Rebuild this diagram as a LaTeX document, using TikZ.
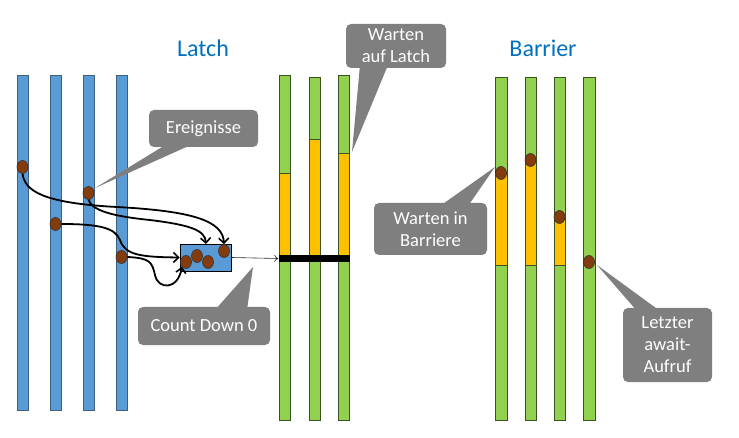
\documentclass[tikz,border=0pt]{standalone}
\usepackage{fontspec}
\setmainfont{Carlito}
\usetikzlibrary{shapes.geometric,arrows.meta,calc}
\definecolor{barblue}{HTML}{5B9BD5}
\definecolor{bargreen}{HTML}{92D050}
\definecolor{barorange}{HTML}{FFC000}
\definecolor{dotbrown}{HTML}{843C0C}
\definecolor{callgray}{HTML}{7F7F7F}
\definecolor{titleblue}{HTML}{0070C0}
\definecolor{blueedge}{HTML}{3F5F7F}
\definecolor{greenedge}{HTML}{3B5323}
\tikzset{
  bluebar/.style={fill=barblue,draw=blueedge,line width=0.8pt},
  greenbar/.style={fill=bargreen,draw=greenedge,line width=0.8pt},
  orangebar/.style={fill=barorange,draw=greenedge,line width=0.8pt},
  evdot/.style={ellipse,fill=dotbrown,draw=black!80,line width=0.6pt,minimum width=11pt,minimum height=13pt,inner sep=0pt},
  callout/.style={fill=callgray,rounded corners=5pt,text=white,inner sep=0pt,align=center,font=\fontsize{18.5}{22}\selectfont},
  pointer/.style={fill=callgray,draw=none},
  title/.style={text=titleblue,font=\fontsize{24}{28}\selectfont,inner sep=0pt},
  flow/.style={line width=1.8pt,-{Straight Barb[length=5pt,width=10pt,line width=1.6pt]}},
}
\begin{document}
\begin{tikzpicture}[x=1pt,y=-1pt]
\useasboundingbox (0,0) rectangle (739,438);
% titles
\node[title] (tlatch) at (203,48) {Latch};
\node[title] (tbarrier) at (543,48) {Barrier};
% blue bars
\foreach \x in {17,50,83,116} {\draw[bluebar] (\x,75) rectangle (\x+11,410);}
% latch green bars
\draw[greenbar] (279,75) rectangle (290,420);
\draw[greenbar] (309,77) rectangle (320,420);
\draw[greenbar] (338,75) rectangle (349,420);
\draw[orangebar] (279,173) rectangle (290,258);
\draw[orangebar] (309,139) rectangle (320,258);
\draw[orangebar] (338,153) rectangle (349,258);
\node[fill=black,minimum width=71pt,minimum height=7pt,inner sep=0pt] (bb) at (314,258.5) {};
% barrier bars
\draw[greenbar] (495,77) rectangle (507,420);
\draw[greenbar] (525,77) rectangle (536,420);
\draw[greenbar] (554,77) rectangle (565,420);
\draw[greenbar] (583,77) rectangle (595,420);
\draw[orangebar] (495,173) rectangle (507,265);
\draw[orangebar] (525,160) rectangle (536,265);
\draw[orangebar] (554,217) rectangle (565,265);
\node[evdot] (b1) at (501,173) {};
\node[evdot] (b2) at (530.5,160) {};
\node[evdot] (b3) at (559.5,217) {};
\node[evdot] (b4) at (589,262) {};
% event dots on blue bars
\node[evdot] (d1) at (22.5,167) {};
\node[evdot] (d2) at (88.5,193) {};
\node[evdot] (d3) at (55.5,224) {};
\node[evdot] (d4) at (121.5,257) {};
% count down box
\node[fill=barblue,draw=black,line width=0.8pt,minimum width=51pt,minimum height=27pt,inner sep=0pt] (cd) at (205.5,257.5) {};
\node[evdot] (e4) at (224,251) {};
\node[evdot] (e2) at (197,256) {};
\node[evdot] (e3) at (208,262) {};
\node[evdot] (e1) at (186,262) {};
\coordinate (c2) at (206,244);
% flows
\draw[flow] (d1.south) .. controls (25,190) and (40,203) .. (117,207) .. controls (190,211) and (223,220) .. (e4.north);
\draw[flow] (d2.south) .. controls (92,210) and (110,216) .. (150,220) .. controls (190,225) and (205,230) .. (c2);
\draw[flow] (d3.east) .. controls (100,224) and (115,228) .. (120,240) .. controls (125,255) and (140,257) .. (cd.west);
\draw[flow] (d4.east) .. controls (150,258) and (152,262) .. (155,275) .. controls (158,290) and (178,290) .. (e1.south west);
\draw[-{To[length=4pt,width=7pt]},line width=0.6pt,draw=black!85] (cd.east) -- (bb.west);
% callouts
\node[callout,minimum width=109pt,minimum height=37pt] (ereig) at (203.5,128.5) {Ereignisse};
\node[callout,minimum width=100pt,minimum height=44pt] (wlatch) at (396,46) {Warten\\auf Latch};
\node[callout,minimum width=113pt,minimum height=52pt] (wbar) at (430.5,229) {Warten in\\Barriere};
\node[callout,minimum width=89pt,minimum height=74pt] (letzt) at (667.5,345) {Letzter\\await-\\Aufruf};
\node[callout,minimum width=132pt,minimum height=38pt] (count) at (204,326) {Count Down 0};
\coordinate (pe) at (95,188);
\coordinate (pw) at (352,152);
\coordinate (pb) at (495,167);
\coordinate (pl) at (597,265);
\coordinate (pc) at (253,267);
\fill[pointer] (167,144) -- (pe) -- (193,144) -- cycle;
\fill[pointer] (360,65) -- (pw) -- (388,65) -- cycle;
\fill[pointer] (440,206) -- (pb) -- (468,206) -- cycle;
\fill[pointer] (637,311) -- (pl) -- (660,311) -- cycle;
\fill[pointer] (215,310) -- (pc) -- (247,310) -- cycle;
\end{tikzpicture}
\end{document}
